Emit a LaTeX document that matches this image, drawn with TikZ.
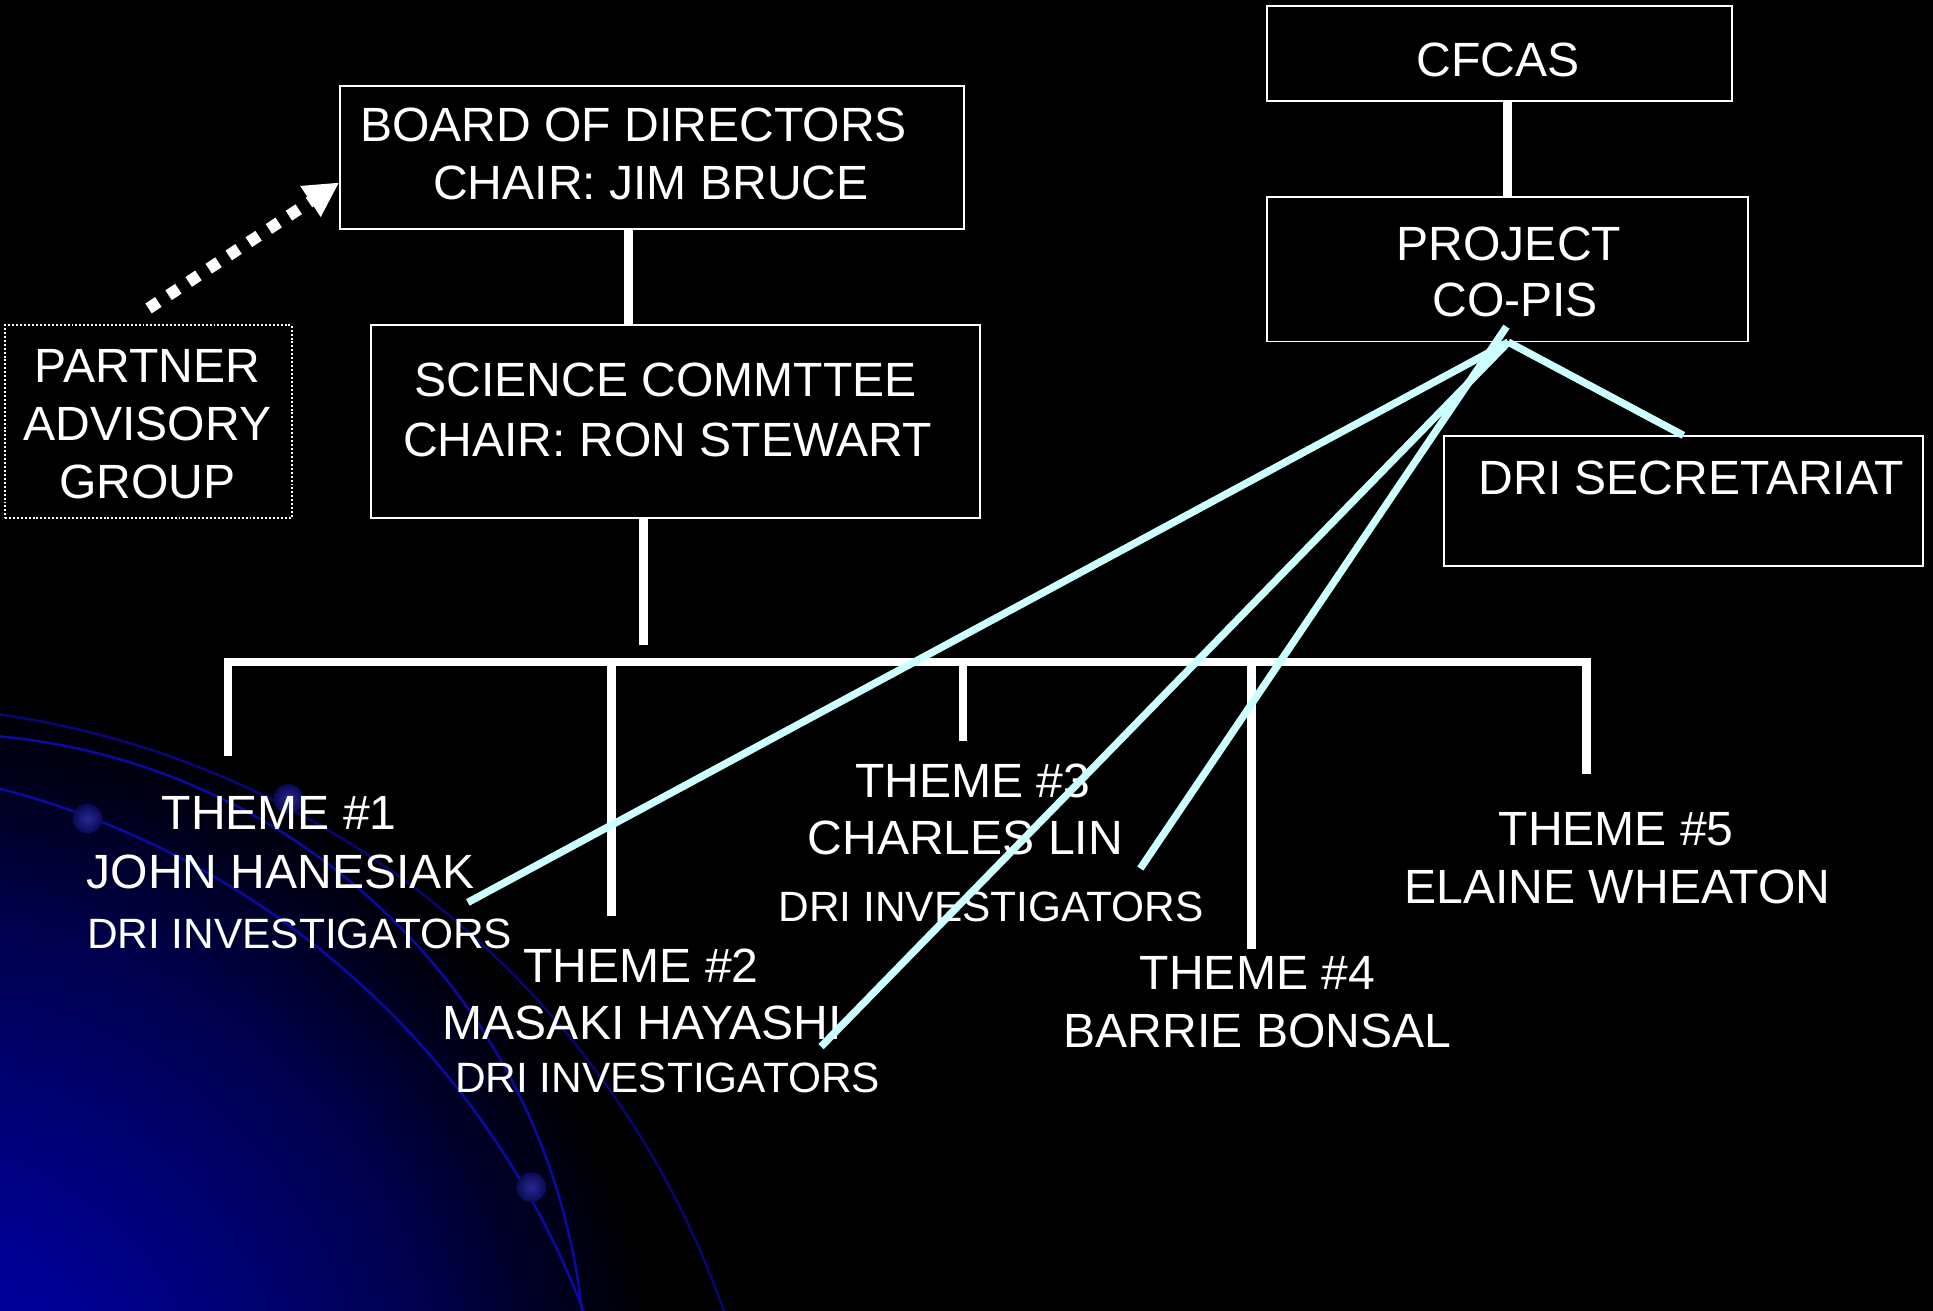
\documentclass[tikz,border=0pt]{standalone}
\usepackage{fontspec}
\setmainfont{Liberation Sans}
\usetikzlibrary{arrows.meta}
\definecolor{gblue}{RGB}{0,0,150}
\definecolor{gmid}{RGB}{0,0,75}
\definecolor{cyanline}{RGB}{204,255,255}
\definecolor{arcblue}{RGB}{10,10,165}
\definecolor{dotin}{RGB}{40,40,145}
\definecolor{dotout}{RGB}{10,10,85}
\pgfdeclareradialshading{globeglow}{\pgfpoint{0bp}{0bp}}{color(0bp)=(gblue); color(7bp)=(gblue); color(18bp)=(gmid); color(25bp)=(black); color(50bp)=(black)}
\tikzset{
  orgbox/.style={draw=white, line width=1.6pt, inner sep=0pt},
  dotbox/.style={draw=white, line width=1.6pt, dash pattern=on 1.6pt off 1.6pt, inner sep=0pt},
  txt/.style={text=white, font=\fontsize{39}{46}\selectfont, inner sep=0pt, anchor=base},
  smalltxt/.style={text=white, font=\fontsize{34.4}{40}\selectfont, inner sep=0pt, anchor=base},
  wline/.style={draw=white, line width=7pt},
  cline/.style={draw=cyanline, line width=6pt},
  dotarrow/.style={draw=white, line width=9.5pt, dash pattern=on 9.5pt off 10pt, -{Triangle[length=28pt,width=28pt]}},
  arcline/.style={draw=arcblue, line width=2pt},
  globedot/.style={inner color=dotin, outer color=dotout}
}
\begin{document}
\begin{tikzpicture}[x=1pt,y=-1pt]
\useasboundingbox (0,0) rectangle (1568,1063);
\fill[black] (-8,-8) rectangle (1576,1071);
% background globe
\begin{scope}
\clip (-8,-8) rectangle (1576,1071);
\shade[shading=globeglow] (-80,1180) circle (620);
\draw[arcline, draw opacity=0.7] (-106.6,1306.9) circle (735);
\draw[arcline] (-50,1120) circle (525);
\draw[arcline] (-172.9,1309) circle (691);
\shade[globedot] (71,664) circle (12);
\shade[globedot] (234,648) circle (12);
\shade[globedot] (431,963) circle (12);
\end{scope}

% boxes
\node[orgbox, minimum width=377pt, minimum height=77pt] (cfcas) at (1216.5,43.5) {};
\node[orgbox, minimum width=390pt, minimum height=117pt] (project) at (1223,218.5) {};
\node[orgbox, minimum width=389pt, minimum height=105pt] (drisec) at (1365.5,406.5) {};
\node[orgbox, minimum width=506pt, minimum height=116pt] (board) at (529,128) {};
\node[orgbox, minimum width=494pt, minimum height=156pt] (science) at (548,342) {};
\node[dotbox, minimum width=233pt, minimum height=156pt] (partner) at (120.5,342) {};

% texts
\node[txt] (cfcasT) at (1215,62) {CFCAS};
\node[txt] (projT1) at (1224,211) {PROJECT};
\node[txt] (projT2) at (1229,257) {CO-PIS};
\node[txt] (secT) at (1372,401) {DRI SECRETARIAT};
\node[txt, anchor=base west] (boardT1) at (292,115) {BOARD OF DIRECTORS};
\node[txt] (boardT2) at (528,162) {CHAIR: JIM BRUCE};
\node[txt] (sciT1) at (540,322) {SCIENCE COMMTTEE};
\node[txt] (sciT2) at (541.5,370) {CHAIR: RON STEWART};
\node[txt] (parT1) at (119.5,310) {PARTNER};
\node[txt] (parT2) at (119.5,357) {ADVISORY};
\node[txt] (parT3) at (119.5,404) {GROUP};

\node[txt] (th1a) at (226.5,673) {THEME \#1};
\node[txt] (th1b) at (227.5,720.5) {JOHN HANESIAK};
\node[smalltxt] (th1c) at (243,769.5) {DRI INVESTIGATORS};
\node[txt] (th2a) at (520,797) {THEME \#2};
\node[txt] (th2b) at (521,843) {MASAKI HAYASHI};
\node[smalltxt] (th2c) at (541.5,886.5) {DRI INVESTIGATORS};
\node[txt] (th3a) at (789,647) {THEME \#3};
\node[txt] (th3b) at (783,693.5) {CHARLES LIN};
\node[smalltxt] (th3c) at (804,747.5) {DRI INVESTIGATORS};
\node[txt] (th4a) at (1020,802.5) {THEME \#4};
\node[txt] (th4b) at (1020,850) {BARRIE BONSAL};
\node[txt] (th5a) at (1311,686) {THEME \#5};
\node[txt] (th5b) at (1312,733) {ELAINE WHEATON};

% white tree connectors
\draw[wline] (project.north) -- (project.north |- cfcas.south);
\draw[wline] ([xshift=-19pt]board.south) -- ([xshift=-38pt]science.north);
\coordinate (scibot) at (522,523.5);
\draw[wline] ([xshift=-26pt]science.south) -- (scibot);
\coordinate (v1b) at (185,613);
\coordinate (v1t) at (185,537);
\coordinate (v5t) at (1287,537);
\coordinate (v5b) at (1287,628);
\draw[wline, line join=miter] (v1b) -- (v1t) -- (v5t) -- (v5b);
\coordinate (v2t) at (496,537); \coordinate (v2b) at (496,743);
\coordinate (v3t) at (781,537); \coordinate (v3b) at (781,601);
\coordinate (v4t) at (1015,537); \coordinate (v4b) at (1015,770);
\draw[wline] (v2t) -- (v2b);
\draw[wline] (v3t) -- (v3b);
\draw[wline] (v4t) -- (v4b);

% cyan connectors from project co-PIs
\coordinate (pA) at (1222,265);
\coordinate (pB) at (1223.5,277.5);
\coordinate (e1) at (379.5,732);
\coordinate (e2) at (666,849);
\coordinate (e3) at (925,704.5);
\draw[cline] (pB) -- (e1);
\draw[cline] (pB) -- (e2);
\draw[cline] (pA) -- (e3);
\draw[cline] (pB) -- (drisec.north);

% dotted arrow from partner group to board
\draw[dotarrow] ([yshift=13pt]partner.north) -- ([yshift=-20pt]board.west);
\end{tikzpicture}
\end{document}
